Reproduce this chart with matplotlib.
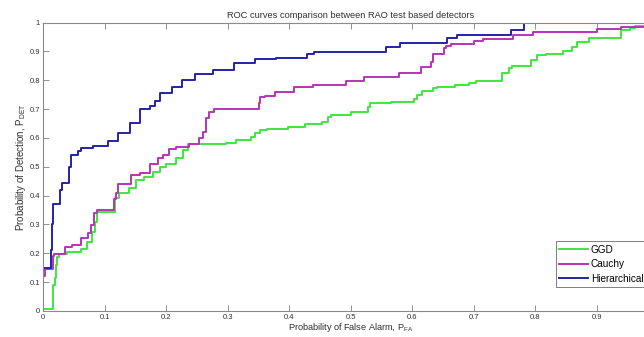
import matplotlib
matplotlib.use("Agg")
import matplotlib.pyplot as plt
import numpy as np

# step curves: (false alarm start, detection level)
ggd_pfa = [0.0, 0.0, 0.015, 0.019, 0.021, 0.023, 0.026, 0.039, 0.061, 0.071, 0.079, 0.084,
           0.088, 0.117, 0.123, 0.139, 0.150, 0.164, 0.178, 0.189, 0.200, 0.216, 0.227, 0.235,
           0.297, 0.313, 0.337, 0.344, 0.352, 0.363, 0.398, 0.425, 0.454, 0.463, 0.468, 0.500,
           0.528, 0.531, 0.565, 0.603, 0.608, 0.616, 0.633, 0.640, 0.669, 0.692, 0.703, 0.746,
           0.757, 0.762, 0.793, 0.803, 0.817, 0.845, 0.860, 0.868, 0.887, 0.940, 0.954, 0.962,
           0.985, 1.0]
ggd_pdet = [0.0, 0.007, 0.09, 0.115, 0.159, 0.188, 0.197, 0.205, 0.216, 0.24, 0.275, 0.31,
            0.344, 0.39, 0.408, 0.425, 0.454, 0.466, 0.483, 0.50, 0.511, 0.529, 0.558, 0.579,
            0.583, 0.593, 0.602, 0.616, 0.627, 0.632, 0.639, 0.648, 0.656, 0.671, 0.679, 0.691,
            0.706, 0.72, 0.726, 0.734, 0.749, 0.764, 0.772, 0.777, 0.783, 0.789, 0.797, 0.824,
            0.841, 0.85, 0.87, 0.887, 0.89, 0.901, 0.916, 0.933, 0.945, 0.974, 0.982, 0.989,
            1.0, 1.0]

cauchy_pfa = [0.0, 0.002, 0.016, 0.018, 0.035, 0.047, 0.062, 0.072, 0.078, 0.083, 0.087, 0.115,
              0.118, 0.122, 0.143, 0.157, 0.174, 0.187, 0.195, 0.205, 0.215, 0.237, 0.254, 0.259,
              0.265, 0.270, 0.277, 0.350, 0.353, 0.360, 0.377, 0.408, 0.438, 0.492, 0.522, 0.579,
              0.614, 0.630, 0.633, 0.651, 0.655, 0.663, 0.700, 0.715, 0.763, 0.796, 0.901, 0.939,
              0.990, 1.0]
cauchy_pdet = [0.12, 0.145, 0.19, 0.197, 0.221, 0.230, 0.252, 0.27, 0.298, 0.339, 0.35, 0.387,
               0.41, 0.44, 0.47, 0.48, 0.51, 0.53, 0.54, 0.56, 0.57, 0.58, 0.60, 0.62,
               0.67, 0.69, 0.699, 0.72, 0.741, 0.745, 0.760, 0.775, 0.784, 0.798, 0.812, 0.826,
               0.847, 0.864, 0.89, 0.91, 0.92, 0.925, 0.935, 0.943, 0.955, 0.968, 0.977, 0.985,
               0.995, 0.995]

hier_pfa = [0.0, 0.0, 0.012, 0.014, 0.016, 0.028, 0.031, 0.042, 0.045, 0.057, 0.062, 0.081,
            0.106, 0.122, 0.141, 0.157, 0.173, 0.181, 0.190, 0.209, 0.226, 0.247, 0.276, 0.310,
            0.344, 0.379, 0.428, 0.440, 0.558, 0.580, 0.656, 0.672, 0.761, 0.781, 1.0]
hier_pdet = [0.0, 0.15, 0.21, 0.30, 0.37, 0.42, 0.445, 0.50, 0.54, 0.555, 0.565, 0.572,
             0.590, 0.618, 0.653, 0.699, 0.710, 0.728, 0.757, 0.777, 0.800, 0.820, 0.836, 0.861,
             0.872, 0.878, 0.890, 0.897, 0.916, 0.930, 0.947, 0.957, 0.974, 1.0, 1.0]

tick_vals = np.round(np.arange(0, 1.01, 0.1), 1)
tick_text = ["0"] + [f"{v:.1f}" for v in tick_vals[1:-1]] + ["1"]

plt.rcParams["font.family"] = ["Liberation Sans", "DejaVu Sans"]
plt.rcParams["mathtext.fontset"] = "custom"
plt.rcParams["mathtext.rm"] = "Liberation Sans"

fig = plt.figure(figsize=(6.44, 3.37), dpi=100)
# axes run past the right edge, as in the cropped reference
ax = fig.add_axes([0.0672, 0.0772, 0.955, 0.856])

ax.step(ggd_pfa, ggd_pdet, where="post", color="#3ee63e", lw=1.4, label="GGD")
ax.step(cauchy_pfa, cauchy_pdet, where="post", color="#b634b6", lw=1.4, label="Cauchy")
ax.step(hier_pfa, hier_pdet, where="post", color="#2222a6", lw=1.4, label="Hierarchical")

ax.set_xlim(0, 1)
ax.set_ylim(0, 1)
ax.set_xticks(tick_vals)
ax.set_yticks(tick_vals)
ax.set_xticklabels(tick_text[:-1] + [""])  # the "1" falls outside the cropped picture
ax.set_yticklabels(tick_text)
ax.tick_params(direction="in", length=4, width=0.6, color="#808080", labelsize=5.5,
               labelcolor="#303030", top=True, right=True, pad=2.5)
for s in ax.spines.values():
    s.set_color("#8a8a8a")
    s.set_linewidth(0.8)

ax.set_title("ROC curves comparison between RAO test based detectors", fontsize=6.7,
             color="#303030", pad=3)
ax.set_xlabel("Probability of False Alarm, P$_{\\rm FA}$", fontsize=6.6, color="#303030", labelpad=0)
ax.set_ylabel("Probability of Detection, P$_{\\rm DET}$", fontsize=7, color="#303030", labelpad=1)

leg = ax.legend(loc="lower right", bbox_to_anchor=(0.9816, 0.083), fontsize=7.2, fancybox=False,
                framealpha=1, edgecolor="#808080", handlelength=2.9, borderpad=0.35,
                labelspacing=0.45, handletextpad=0.25, borderaxespad=0)
leg.get_frame().set_linewidth(0.7)

fig.savefig("out.png", dpi=100)
